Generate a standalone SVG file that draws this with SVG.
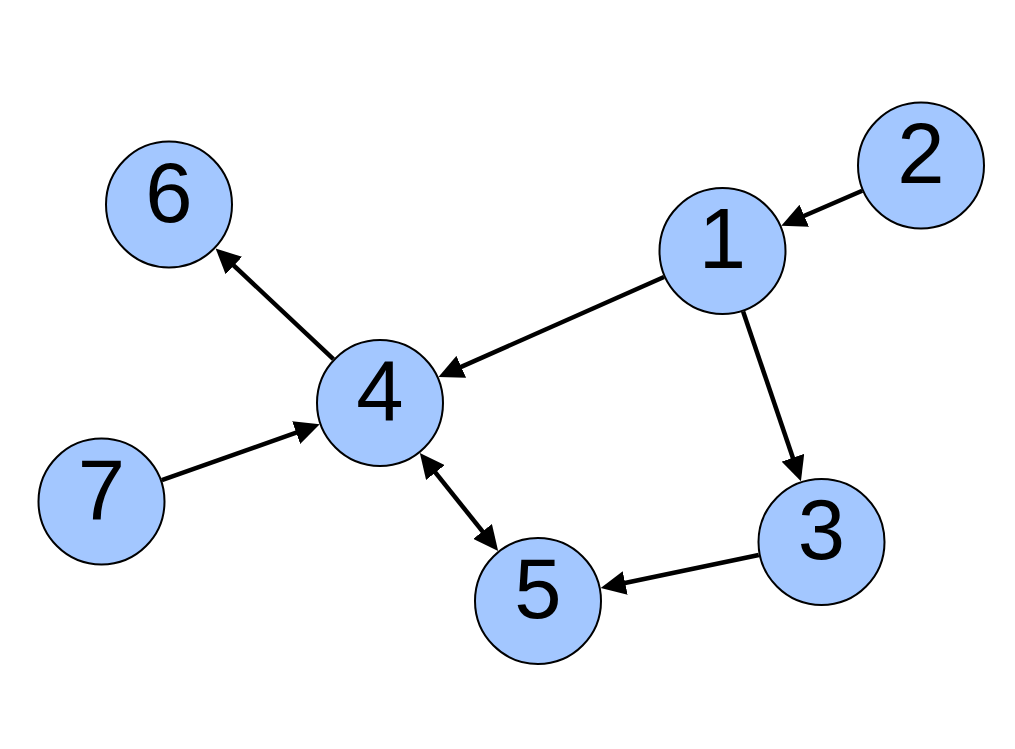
<svg xmlns="http://www.w3.org/2000/svg" width="1015" height="749" viewBox="0 0 1015 749">
<style>
.node circle{fill:#a3c7ff;stroke:#000;stroke-width:2}
.node text{font-family:"Liberation Sans",Arial,sans-serif;font-size:85px;text-anchor:middle;fill:#000}
.edge{stroke:#000;stroke-width:4.5;fill:none}
</style>
<defs>
<marker id="ah" viewBox="0 0 25 24" refX="15" refY="12" markerWidth="25" markerHeight="24" markerUnits="userSpaceOnUse" orient="auto-start-reverse">
<path d="M0,0 L25,12 L0,24 z" fill="#000"/>
</marker>
</defs>
<rect width="1015" height="749" fill="#fff"/>
<g id="connectors">
<line class="edge" x1="862.2" y1="190.8" x2="790.5" y2="221.7" marker-end="url(#ah)"/>
<line class="edge" x1="664.0" y1="277.0" x2="447.6" y2="372.9" marker-end="url(#ah)"/>
<line class="edge" x1="743.1" y1="311.6" x2="797.7" y2="471.9" marker-end="url(#ah)"/>
<line class="edge" x1="758.8" y1="555.0" x2="610.5" y2="586.0" marker-end="url(#ah)"/>
<line class="edge" x1="426.1" y1="460.8" x2="491.9" y2="543.2" marker-start="url(#ah)" marker-end="url(#ah)"/>
<line class="edge" x1="333.4" y1="359.1" x2="222.9" y2="255.3" marker-end="url(#ah)"/>
<line class="edge" x1="161.8" y1="480.2" x2="310.3" y2="427.6" marker-end="url(#ah)"/>
</g>
<g id="node1" class="node"><circle cx="722.5" cy="251" r="63"/><text x="722.5" y="268">1</text></g>
<g id="node2" class="node"><circle cx="921" cy="165.5" r="63"/><text x="921" y="182.5">2</text></g>
<g id="node3" class="node"><circle cx="821.5" cy="542" r="63"/><text x="821.5" y="559">3</text></g>
<g id="node4" class="node"><circle cx="380" cy="403" r="63"/><text x="380" y="420">4</text></g>
<g id="node5" class="node"><circle cx="538" cy="601" r="63"/><text x="538" y="618">5</text></g>
<g id="node6" class="node"><circle cx="169" cy="204.5" r="63"/><text x="169" y="221.5">6</text></g>
<g id="node7" class="node"><circle cx="101.5" cy="501.5" r="63"/><text x="101.5" y="518.5">7</text></g>
</svg>
